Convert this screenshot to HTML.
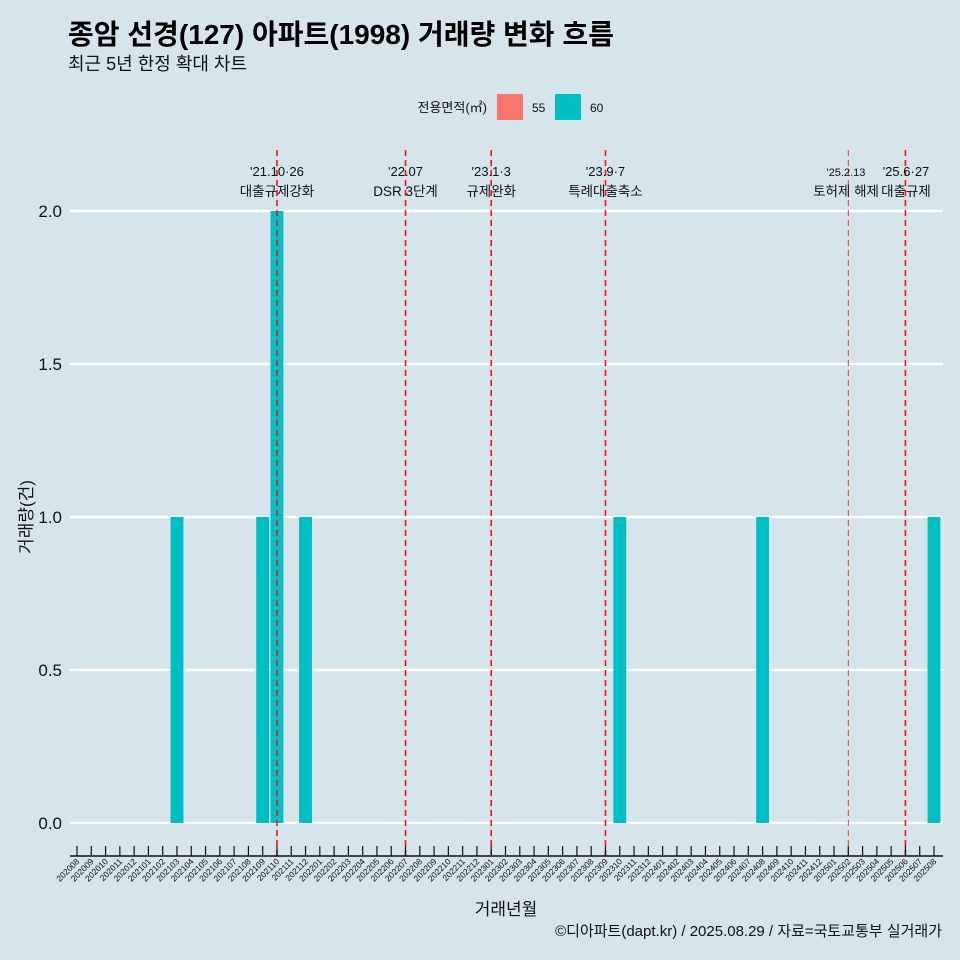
<!DOCTYPE html>
<html><head><meta charset="utf-8"><style>
html,body{margin:0;padding:0;background:#d6e4eb;}
svg{display:block;font-family:"Liberation Sans","Noto Sans CJK KR",sans-serif;}
</style></head><body>
<svg id="chart" width="960" height="960" viewBox="0 0 960 960">
<rect x="0" y="0" width="960" height="960" fill="#d6e4eb"/>
<text x="68" y="44" font-size="28" font-weight="bold" fill="#000">종암 선경(127) 아파트(1998) 거래량 변화 흐름</text>
<text x="68" y="70" font-size="18" fill="#111">최근 5년 한정 확대 차트</text>
<g>
<text x="487" y="112" font-size="13" text-anchor="end" fill="#111">전용면적(㎡)</text>
<rect x="497" y="94" width="26" height="26" fill="#f8766d"/>
<text x="532" y="112" font-size="12" fill="#111">55</text>
<rect x="555" y="94" width="26" height="26" fill="#00bfc4"/>
<text x="590" y="112" font-size="12" fill="#111">60</text>
</g>
<g id="grid"></g><g id="bars"></g><g id="events"></g><g id="xaxis"></g>
<text x="32" y="517" font-size="17" fill="#111" transform="rotate(-90 32 517)" text-anchor="middle">거래량(건)</text>
<text x="506" y="915" font-size="17" fill="#111" text-anchor="middle">거래년월</text>
<text x="942" y="936" font-size="15" fill="#111" text-anchor="end">©디아파트(dapt.kr) / 2025.08.29 / 자료=국토교통부 실거래가</text>
</svg>
<script>
const months = [];
for (let y = 2020, m = 8; y < 2025 || (y === 2025 && m <= 8); ) { months.push(y + String(m).padStart(2, '0')); m++; if (m > 12) { m = 1; y++; } }
const barMonths = ['202103', '202109', '202110', '202112', '202310', '202408', '202508'];
const barValues = [1, 1, 2, 1, 1, 1, 1];
const yTicks = [0, 0.5, 1, 1.5, 2];
const yTickLabels = ['0.0', '0.5', '1.0', '1.5', '2.0'];
const eventMonths = ['202110', '202207', '202301', '202309', '202502', '202506'];
const eventDates = ["'21.10·26", "'22.07", "'23.1·3", "'23.9·7", "'25.2.13", "'25.6·27"];
const eventNames = ['대출규제강화', 'DSR 3단계', '규제완화', '특례대출축소', '토허제 해제', '대출규제'];

const NS = 'http://www.w3.org/2000/svg';
const x0 = 77, step = (934 - 77) / 60;
const xs = m => x0 + months.indexOf(m) * step;
const ys = v => 823 - v * 306;
function mk(parent, tag, attrs, text) {
  const e = document.createElementNS(NS, tag);
  for (const k in attrs) e.setAttribute(k, attrs[k]);
  if (text !== undefined) e.textContent = text;
  document.getElementById(parent).appendChild(e);
  return e;
}
yTicks.forEach((v, i) => {
  const l = mk('grid', 'line', {x1: 70, x2: 943, y1: ys(v), y2: ys(v), stroke: '#fff', 'stroke-width': 2.2});
  
  
  const t = mk('grid', 'text', {x: 62, y: ys(v) + 6, 'font-size': 17, 'text-anchor': 'end', fill: '#111'}, yTickLabels[i]);
  
  
});
barMonths.forEach((m, i) => {
  const bw = step * 0.9;
  const r = mk('bars', 'rect', {x: xs(m) - bw / 2, y: ys(barValues[i]), width: bw, height: ys(0) - ys(barValues[i]), fill: '#00bfc4'});
  
  
});
eventMonths.forEach((m, i) => {
  const x = xs(m);
  const thin = m === '202502';
  const l = mk('events', 'line', {x1: x, x2: x, y1: 150, y2: 856, stroke: thin ? '#f03030' : '#ff1010', 'stroke-width': thin ? 1 : 1.6, 'stroke-dasharray': '6,4'});
  
  
  const fs = thin ? 11 : 13;
  const cx = m === '202502' ? 846 : (m === '202506' ? 906 : x);
  const t1 = mk('events', 'text', {x: cx, y: 176, 'font-size': fs, 'text-anchor': 'middle', fill: '#111'}, eventDates[i]);
  
  
  const t2 = mk('events', 'text', {x: cx, y: 196, 'font-size': 13.5, 'text-anchor': 'middle', fill: '#111'}, eventNames[i]);
  
  
});
const ax = mk('xaxis', 'line', {x1: 70, x2: 943, y1: 856, y2: 856, stroke: '#111', 'stroke-width': 1.5});


months.forEach(m => {
  const x = xs(m);
  const tk = mk('xaxis', 'line', {x1: x, x2: x, y1: 846, y2: 856, stroke: '#111', 'stroke-width': 1.2});
  
  
  const t = mk('xaxis', 'text', {x: x + 3, y: 862, 'font-size': 8.5, 'text-anchor': 'end', fill: '#111', transform: `rotate(-45 ${x + 3} 862)`}, m);
  
  
});
</script>
</body></html>
